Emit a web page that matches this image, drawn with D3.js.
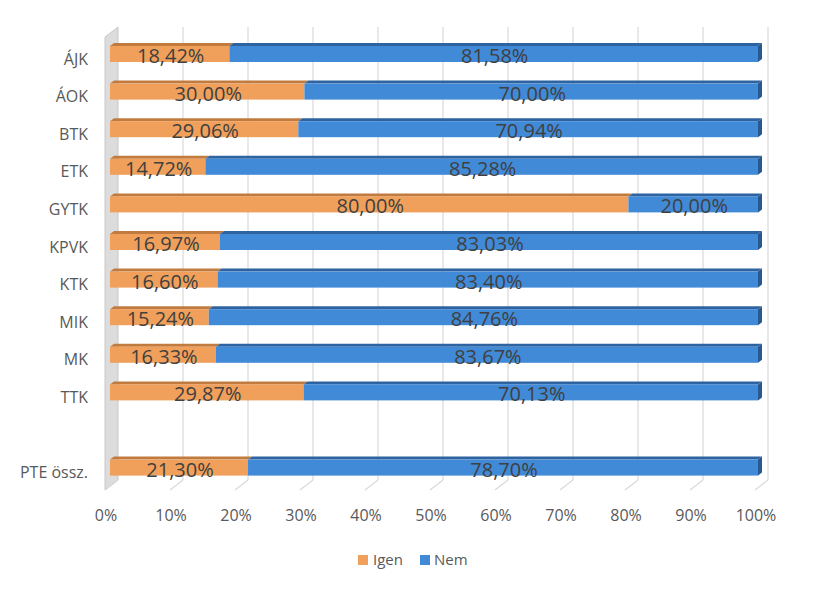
<!DOCTYPE html>
<html>
<head>
<meta charset="utf-8">
<script src="https://cdn.jsdelivr.net/npm/d3@7"></script>
<style>
  html, body { margin: 0; padding: 0; background: #fff; }
  svg { display: block; font-family: "Open Sans", "Noto Sans", sans-serif; }
</style>
</head>
<body>
<svg id="chart" width="821" height="590"></svg>
<script>
// ---- data ----
const categories = ["ÁJK", "ÁOK", "BTK", "ETK", "GYTK", "KPVK", "KTK", "MIK", "MK", "TTK", "", "PTE össz."];
const igen = [18.42, 30.00, 29.06, 14.72, 80.00, 16.97, 16.60, 15.24, 16.33, 29.87, null, 21.30];
const nem  = [81.58, 70.00, 70.94, 85.28, 20.00, 83.03, 83.40, 84.76, 83.67, 70.13, null, 78.70];
const seriesNames = ["Igen", "Nem"];
const xTicks = [0, 10, 20, 30, 40, 50, 60, 70, 80, 90, 100];

// ---- styles ----
const colors = {
  Igen: { front: "#F0A05B", top: "#C27B3F", side: "#B06E37" },
  Nem:  { front: "#418AD7", top: "#2D63A0", side: "#275890" }
};

const svg = d3.select("#chart");

// front plane of bars
const x = d3.scaleLinear().domain([0, 100]).range([110, 758]);
// floor / wall planes
const xFloorFront = d3.scaleLinear().domain([0, 100]).range([105, 755]);
const xBack = d3.scaleLinear().domain([0, 100]).range([118, 768]);
const y = d3.scalePoint().domain(categories.map((c, i) => i)).range([35.2, 486.4]).padding(0.5);

const floorFrontY = 490, floorBackY = 480, backTopY = 27, frontTopY = 37;
const barH = 16, dx = 4, dy = 3;

// left side wall
svg.append("path")
  .attr("d", `M${xFloorFront(0)},${floorFrontY} L${xBack(0)},${floorBackY} L${xBack(0)},${backTopY} L${xFloorFront(0)},${frontTopY} Z`)
  .attr("fill", "#DCDCDC").attr("stroke", "#C8C8C8").attr("stroke-width", 1);

// gridlines on back plane
svg.append("g").selectAll("line").data(xTicks.slice(1)).join("line")
  .attr("x1", d => xBack(d)).attr("x2", d => xBack(d))
  .attr("y1", backTopY).attr("y2", floorBackY)
  .attr("stroke", "#D9D9D9").attr("stroke-width", 1.2);

// floor tick lines
svg.append("g").selectAll("line").data(xTicks).join("line")
  .attr("x1", d => xFloorFront(d)).attr("x2", d => xBack(d))
  .attr("y1", floorFrontY).attr("y2", floorBackY)
  .attr("stroke", "#D9D9D9").attr("stroke-width", 1.2);

// x tick labels
svg.append("g").selectAll("text").data(xTicks).join("text")
  .attr("x", d => xFloorFront(d) + 1).attr("y", 521)
  .attr("text-anchor", "middle").attr("font-size", 16).attr("fill", "#595959")
  .text(d => d + "%");

// category labels
svg.append("g").selectAll("text").data(categories).join("text")
  .attr("x", 88).attr("y", (d, i) => y(i) + 10.5)
  .attr("text-anchor", "end").attr("font-size", 16).attr("fill", "#595959")
  .text(d => d);

// bars
const fmt = v => d3.format(".2f")(v).replace(".", ",") + "%";
const rows = categories.map((c, i) => ({ i, igen: igen[i], nem: nem[i] })).filter(r => r.igen != null);

const gBars = svg.append("g");
rows.forEach(r => {
  const cy = y(r.i), yt = cy - barH / 2, yb = cy + barH / 2;
  const segs = [
    { name: "Igen", x1: x(0), x2: x(r.igen), v: r.igen },
    { name: "Nem", x1: x(r.igen), x2: x(r.igen + r.nem), v: r.nem }
  ];
  segs.forEach((s, k) => {
    const c = colors[s.name];
    // top face
    gBars.append("path")
      .attr("d", `M${s.x1},${yt} L${s.x1 + dx},${yt - dy} L${s.x2 + dx},${yt - dy} L${s.x2},${yt} Z`)
      .attr("fill", c.top);
    // front face
    gBars.append("rect")
      .attr("x", s.x1).attr("y", yt).attr("width", s.x2 - s.x1).attr("height", barH)
      .attr("fill", c.front);
    if (k === segs.length - 1) {
      gBars.append("path")
        .attr("d", `M${s.x2},${yt} L${s.x2 + dx},${yt - dy} L${s.x2 + dx},${yb - dy} L${s.x2},${yb} Z`)
        .attr("fill", c.side);
    }
  });
  segs.forEach(s => {
    gBars.append("text")
      .attr("x", (s.x1 + s.x2) / 2 + 1).attr("y", cy + 9)
      .attr("text-anchor", "middle").attr("font-size", 20).attr("fill", "#404040")
      .text(fmt(s.v));
  });
});

// legend
const legend = svg.append("g");
const legendItems = [{ name: "Igen", sx: 358, tx: 373 }, { name: "Nem", sx: 420, tx: 434 }];
legendItems.forEach(it => {
  legend.append("rect").attr("x", it.sx).attr("y", 555).attr("width", 10).attr("height", 10)
    .attr("fill", colors[it.name].front);
  legend.append("text").attr("x", it.tx).attr("y", 565).attr("font-size", 15).attr("fill", "#595959")
    .text(it.name);
});
</script>
</body>
</html>
